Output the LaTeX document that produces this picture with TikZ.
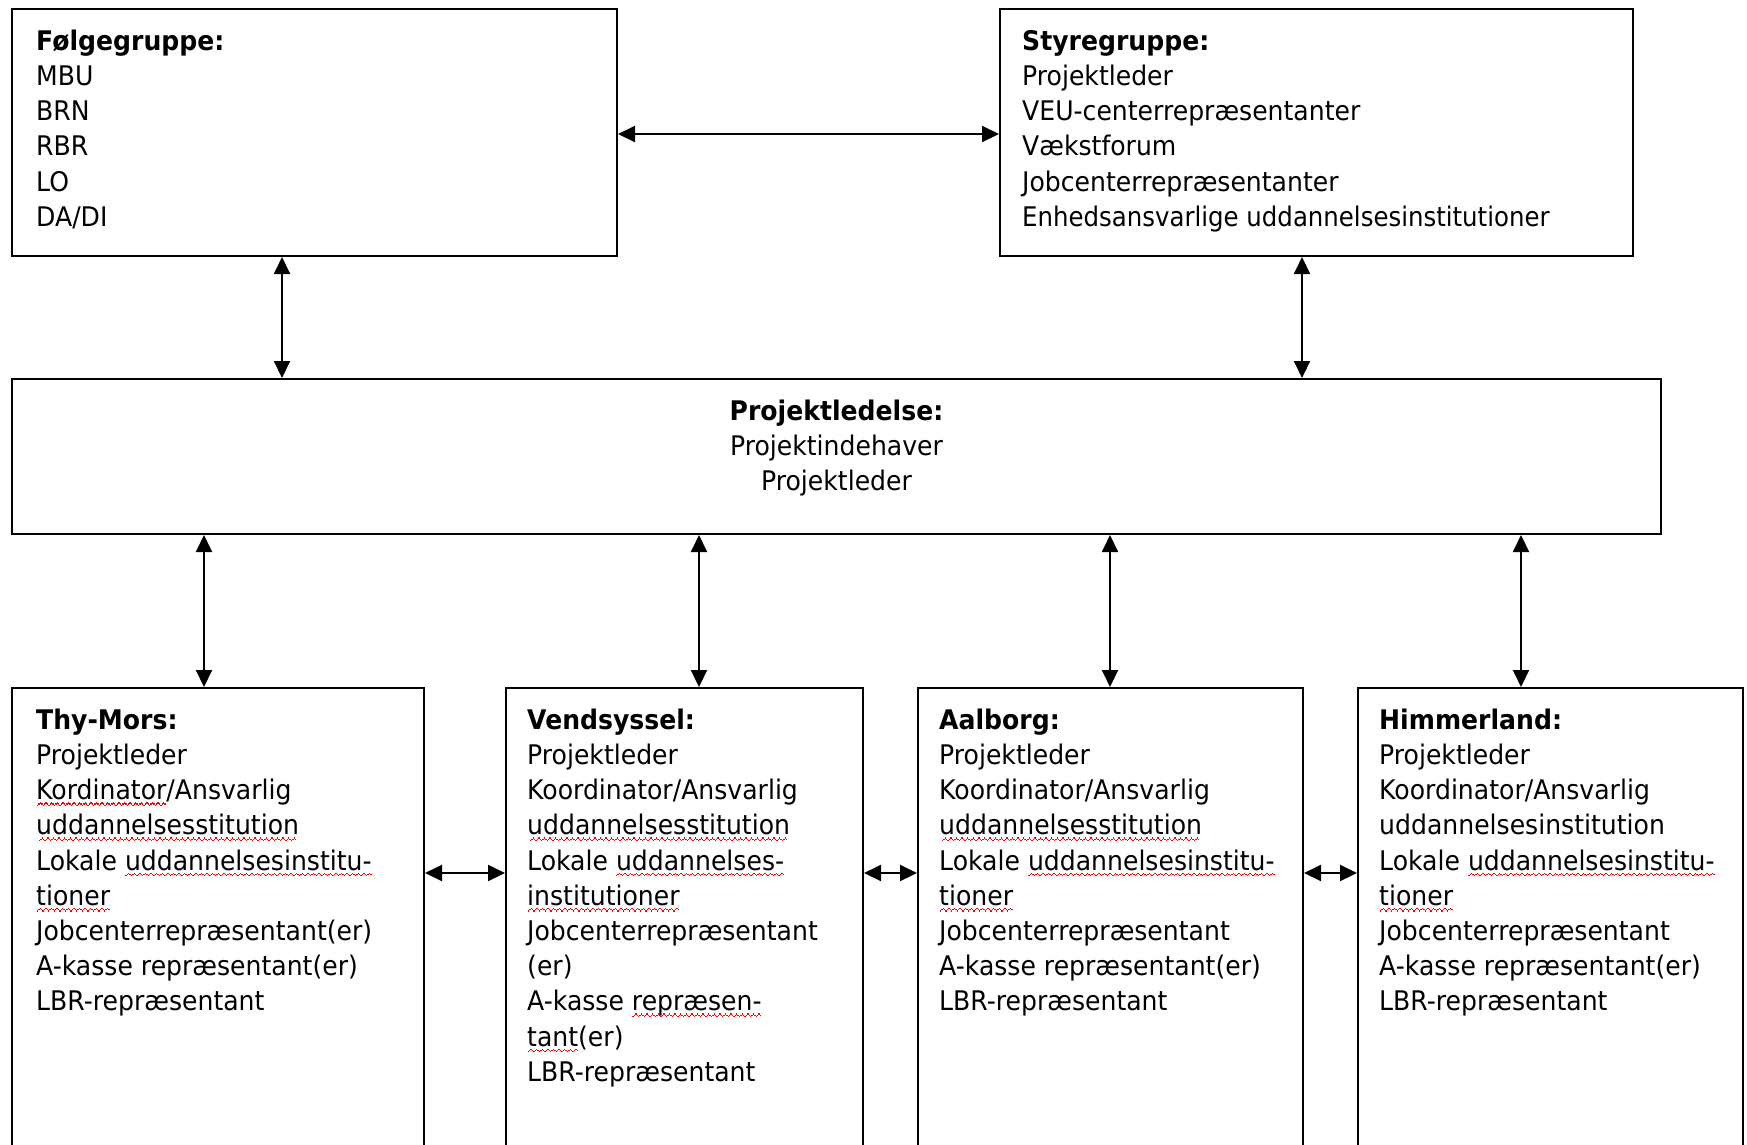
\documentclass[tikz,border=0pt]{standalone}
\usepackage{fontspec}
\setmainfont{DejaVu Sans}[FakeStretch=0.93]
\usetikzlibrary{arrows.meta}
\newcommand\squnit{\hbox{\rule[-6.4pt]{1.4pt}{1.4pt}\rule[-5.2pt]{1.4pt}{1.4pt}\rule[-4pt]{1.4pt}{1.4pt}\rule[-5.2pt]{1.4pt}{1.4pt}}}
\newcommand\redsq[1]{\setbox0=\hbox{#1}\rlap{\hbox to\wd0{{\color{red}\cleaders\squnit\hfill}}}\box0}
\begin{document}
\begin{tikzpicture}[x=1pt,y=-1pt,
  box/.style={draw=black, line width=2pt, rectangle, anchor=north west, inner sep=0pt},
  txt/.style={anchor=north west, inner sep=0pt, align=left, font=\fontsize{27}{35.2}\selectfont},
  dbl/.style={line width=2pt, {Triangle[length=17pt,width=16pt]}-{Triangle[length=17pt,width=16pt]}}]
\useasboundingbox (0,0) rectangle (1747,1144);
\clip (0,0) rectangle (1747,1144);
\fill[white] (0,0) rectangle (1747,1144);

% boxes
\node[box, minimum width=605pt, minimum height=247pt] (fg) at (11,8) {};
\node[box, minimum width=633pt, minimum height=247pt] (sg) at (999,8) {};
\node[box, minimum width=1649pt, minimum height=155pt] (pl) at (11,378) {};
\node[box, minimum width=412pt, minimum height=520pt] (tm) at (11,687) {};
\node[box, minimum width=357pt, minimum height=520pt] (vs) at (505,687) {};
\node[box, minimum width=385pt, minimum height=520pt] (ab) at (917,687) {};
\node[box, minimum width=385pt, minimum height=520pt] (hm) at (1357,687) {};

% texts
\node[txt] (fgt) at ([xshift=25pt,yshift=-20pt]fg.north west)
  {\textbf{Følgegruppe:}\rule{0pt}{22pt}\\MBU\\BRN\\RBR\\LO\\DA/DI};
\node[txt] (sgt) at ([xshift=23pt,yshift=-20pt]sg.north west)
  {\textbf{Styregruppe:}\rule{0pt}{22pt}\\Projektleder\\VEU-centerrepræsentanter\\Vækstforum\\Jobcenterrepræsentanter\\{\addfontfeatures{FakeStretch=0.905}Enhedsansvarlige uddannelsesinstitutioner}};
\node[txt, anchor=north, align=center] (plt) at ([yshift=-20pt]pl.north)
  {\textbf{Projektledelse:}\rule{0pt}{22pt}\\Projektindehaver\\Projektleder};
\node[txt] (tmt) at ([xshift=25pt,yshift=-20pt]tm.north west)
  {\textbf{Thy-Mors:}\rule{0pt}{22pt}\\Projektleder\\\redsq{Kordinator}/Ansvarlig\\\redsq{uddannelsesstitution}\\Lokale \redsq{uddannelsesinstitu-}\\\redsq{tioner}\\Jobcenterrepræsentant(er)\\A-kasse repræsentant(er)\\LBR-repræsentant};
\node[txt] (vst) at ([xshift=22pt,yshift=-20pt]vs.north west)
  {\textbf{Vendsyssel:}\rule{0pt}{22pt}\\Projektleder\\Koordinator/Ansvarlig\\\redsq{uddannelsesstitution}\\Lokale \redsq{uddannelses-}\\\redsq{institutioner}\\Jobcenterrepræsentant\\(er)\\A-kasse \redsq{repræsen-}\\\redsq{tant}(er)\\LBR-repræsentant};
\node[txt] (abt) at ([xshift=22pt,yshift=-20pt]ab.north west)
  {\textbf{Aalborg:}\rule{0pt}{22pt}\\Projektleder\\Koordinator/Ansvarlig\\\redsq{uddannelsesstitution}\\Lokale \redsq{uddannelsesinstitu-}\\\redsq{tioner}\\Jobcenterrepræsentant\\A-kasse repræsentant(er)\\LBR-repræsentant};
\node[txt] (hmt) at ([xshift=22pt,yshift=-20pt]hm.north west)
  {\textbf{Himmerland:}\rule{0pt}{22pt}\\Projektleder\\Koordinator/Ansvarlig\\uddannelsesinstitution\\Lokale \redsq{uddannelsesinstitu-}\\\redsq{tioner}\\Jobcenterrepræsentant\\A-kasse repræsentant(er)\\LBR-repræsentant};

% connector guides
\coordinate (htop) at (0,134);
\coordinate (hbot) at (0,873);
\coordinate (v1) at (282,0);
\coordinate (v2) at (1302,0);
\coordinate (b1) at (204,0);
\coordinate (b2) at (699,0);
\coordinate (b3) at (1110,0);
\coordinate (b4) at (1521,0);

% connectors
\draw[dbl] (fg.east |- htop) -- (sg.west |- htop);
\draw[dbl] (fg.south -| v1) -- (pl.north -| v1);
\draw[dbl] (sg.south -| v2) -- (pl.north -| v2);
\draw[dbl] (pl.south -| b1) -- (tm.north -| b1);
\draw[dbl] (pl.south -| b2) -- (vs.north -| b2);
\draw[dbl] (pl.south -| b3) -- (ab.north -| b3);
\draw[dbl] (pl.south -| b4) -- (hm.north -| b4);
\draw[dbl] (tm.east |- hbot) -- (vs.west |- hbot);
\draw[dbl] (vs.east |- hbot) -- (ab.west |- hbot);
\draw[dbl] (ab.east |- hbot) -- (hm.west |- hbot);
\end{tikzpicture}
\end{document}
